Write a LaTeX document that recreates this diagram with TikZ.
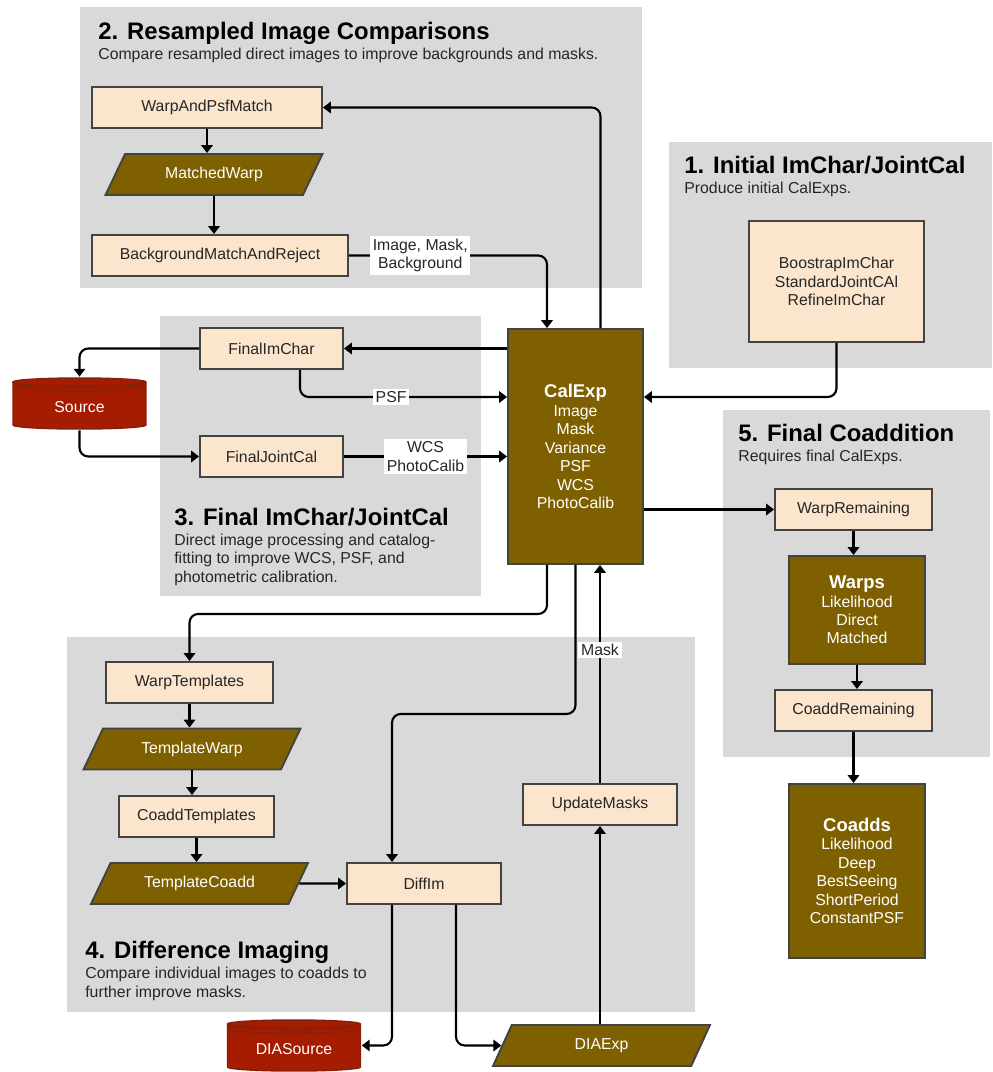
\documentclass[tikz,border=0pt]{standalone}
\usepackage{fontspec}
\setmainfont{Liberation Sans}
\usetikzlibrary{arrows.meta,shapes.geometric}
\definecolor{kpanel}{HTML}{D9D9D9}
\definecolor{kpeach}{HTML}{FCE5CD}
\definecolor{kbrown}{HTML}{7F6000}
\definecolor{kred}{HTML}{A61C00}
\definecolor{kredline}{HTML}{85200C}
\definecolor{kline}{HTML}{434343}
\definecolor{ktext}{HTML}{262626}
\begin{document}
\begin{tikzpicture}[x=0.02cm,y=-0.02cm,
  kbox/.style={draw=kline,line width=1.1pt,fill=kpeach,text=ktext,font=\fontsize{9}{10.5}\selectfont,align=center,inner sep=0pt,minimum height=0.82cm},
  kdata/.style={draw=kline,line width=1.1pt,fill=kbrown,text=white,font=\fontsize{9}{10.5}\selectfont,align=center,inner sep=0pt},
  kslant/.style={kdata,trapezium,trapezium left angle=37,trapezium right angle=143,trapezium stretches body,minimum width=4.34cm,minimum height=0.82cm},
  kdb/.style={minimum width=2.7cm,minimum height=1.06cm,inner sep=0pt,text=white,font=\fontsize{9}{10.5}\selectfont,text height=10pt,text depth=0pt,
    path picture={
      \coordinate (kTL) at ([xshift=0.6pt,yshift=-\kry cm-0.6pt]path picture bounding box.north west);
      \coordinate (kBL) at ([xshift=0.6pt,yshift=\kry cm+0.6pt]path picture bounding box.south west);
      \coordinate (kTR) at ([xshift=-0.6pt,yshift=-\kry cm-0.6pt]path picture bounding box.north east);
      \filldraw[fill=kred,draw=kredline,line width=0.9pt] (kTL) -- (kBL) arc[start angle=180,end angle=360,x radius=\krx cm-0.6pt,y radius=\kry cm]
        -- (kTR) arc[start angle=0,end angle=180,x radius=\krx cm-0.6pt,y radius=\kry cm] -- cycle;
      \foreach \kdy in {0,0.04,0.1}{
        \draw[kredline,line width=0.6pt] ([yshift=-\kdy cm]kTL) arc[start angle=180,end angle=360,x radius=\krx cm-0.6pt,y radius=\kry cm];}
    }},
  karr/.style={draw=black,line width=1.2pt,rounded corners=5pt,-{Triangle[length=4.5pt,width=6.5pt]}},
  klbl/.style={fill=white,text=ktext,font=\fontsize{9}{10.5}\selectfont,align=center,inner sep=1.5pt,sharp corners},
  ktitle/.style={anchor=base west,font=\fontsize{13.6}{16}\selectfont\bfseries,text=black,inner sep=0pt},
  ksub/.style={anchor=base west,font=\fontsize{9}{10.5}\selectfont,text=ktext,align=left,inner sep=0pt},
]
\pgfmathsetmacro{\krx}{1.35}
\pgfmathsetmacro{\kry}{0.08}
\useasboundingbox (0,0) rectangle (992,1072);
% panels
\foreach \kxa/\kya/\kxb/\kyb in {80/7/642/288,669/142/992/368,160/316/481/596,723/410/990/757,67/637/695/1012}{
  \fill[kpanel] (\kxa,\kya) rectangle (\kxb,\kyb);}
% panel texts (base of the last line)
\node[ktitle] (t2) at (98,39) {2. Resampled Image Comparisons};
\node[ksub] (s2) at (98,59) {Compare resampled direct images to improve backgrounds and masks.};
\node[ktitle] (t1) at (684,173) {1. Initial ImChar/JointCal};
\node[ksub] (s1) at (684,193) {Produce initial CalExps.};
\node[ktitle] (t3) at (174,525) {3. Final ImChar/JointCal};
\node[ksub] (s3) at (174,582) {Direct image processing and catalog-\\fitting to improve WCS, PSF, and\\photometric calibration.};
\node[ktitle] (t5) at (738,441) {5. Final Coaddition};
\node[ksub] (s5) at (738,461) {Requires final CalExps.};
\node[ktitle] (t4) at (85,958) {4. Difference Imaging};
\node[ksub] (s4) at (85,997) {Compare individual images to coadds to\\further improve masks.};
% nodes
\node[kbox,minimum width=4.6cm] (WarpPsf) at (207,107.5) {WarpAndPsfMatch};
\node[kslant] (MatchedWarp) at (214,174.5) {MatchedWarp};
\node[kbox,minimum width=5.12cm] (BgMatch) at (220,255.5) {BackgroundMatchAndReject};
\node[kbox,minimum width=3.5cm,minimum height=2.42cm] (Initial) at (836.5,281.5) {BoostrapImChar\\StandardJointCAl\\RefineImChar};
\node[kdata,minimum width=2.7cm,minimum height=4.7cm] (CalExp) at (575.5,446.5) {{\fontsize{10.5}{12}\selectfont\bfseries CalExp}\\Image\\Mask\\Variance\\PSF\\WCS\\PhotoCalib};
\node[kbox,minimum width=2.86cm] (FinalImChar) at (271.5,348.5) {FinalImChar};
\node[kbox,minimum width=2.86cm] (FinalJointCal) at (271.5,456.5) {FinalJointCal};
\node[kdb] (Source) at (79.5,403.5) {Source};
\node[kbox,minimum width=3.14cm] (WarpRem) at (853.5,509.5) {WarpRemaining};
\node[kdata,minimum width=2.72cm,minimum height=2.16cm] (Warps) at (857,610) {{\fontsize{10.5}{12}\selectfont\bfseries Warps}\\Likelihood\\Direct\\Matched};
\node[kbox,minimum width=3.14cm] (CoaddRem) at (853.5,710.5) {CoaddRemaining};
\node[kdata,minimum width=2.72cm,minimum height=3.48cm] (Coadds) at (857,871) {{\fontsize{10.5}{12}\selectfont\bfseries Coadds}\\Likelihood\\Deep\\BestSeeing\\ShortPeriod\\ConstantPSF};
\node[kbox,minimum width=3.34cm] (WarpTmpl) at (189.5,682.5) {WarpTemplates};
\node[kslant] (TmplWarp) at (192,749) {TemplateWarp};
\node[kbox,minimum width=3.1cm] (CoaddTmpl) at (196.5,816.5) {CoaddTemplates};
\node[kslant] (TmplCoadd) at (199.5,883.5) {TemplateCoadd};
\node[kbox,minimum width=3.08cm] (DiffIm) at (424,883.5) {DiffIm};
\node[kbox,minimum width=3.08cm] (UpdMasks) at (600,804.5) {UpdateMasks};
\node[kslant] (DIAExp) at (601.5,1045.5) {DIAExp};
\node[kdb] (DIASource) at (294,1045.5) {DIASource};
% connectors
\draw[karr] (BgMatch.east) -| ([xshift=-0.57cm]CalExp.north) node[klbl,pos=0.18]{Image, Mask,\\Background};
\draw[karr] ([xshift=0.5cm]CalExp.north) |- (WarpPsf.east);
\draw[karr] (WarpPsf.south) -- (WarpPsf.south |- MatchedWarp.north);
\draw[karr] (MatchedWarp.south) -- (MatchedWarp.south |- BgMatch.north);
\draw[karr] (FinalImChar.east -| CalExp.west) -- (FinalImChar.east);
\draw[karr] (FinalImChar.west) -| (Source.north);
\draw[karr] ([xshift=0.57cm]FinalImChar.south) |- ([yshift=0.99cm]CalExp.west) node[klbl,pos=0.72]{PSF};
\draw[karr] (Initial.south) |- ([yshift=0.99cm]CalExp.east);
\draw[karr] (Source.south) |- (FinalJointCal.west);
\draw[karr] (FinalJointCal.east) -- (FinalJointCal.east -| CalExp.west) node[klbl,pos=0.5]{WCS\\PhotoCalib};
\draw[karr] (WarpRem.west -| CalExp.east) -- (WarpRem.west);
\draw[karr] (WarpRem.south) -- (WarpRem.south |- Warps.north);
\draw[karr] (Warps.south) -- (Warps.south |- CoaddRem.north);
\draw[karr] (CoaddRem.south) -- (CoaddRem.south |- Coadds.north);
\draw[karr] ([xshift=-0.57cm]CalExp.south) -- ++(0,49) -| (WarpTmpl.north);
\draw[karr] (CalExp.south) -- ++(0,149) -| ([xshift=-0.64cm]DiffIm.north);
\draw[karr] (UpdMasks.north) -- (UpdMasks.north |- CalExp.south) node[klbl,pos=0.61]{Mask};
\draw[karr] (DIAExp.north -| UpdMasks.south) -- (UpdMasks.south);
\draw[karr] (WarpTmpl.south) -- (WarpTmpl.south |- TmplWarp.north);
\draw[karr] (TmplWarp.south) -- (TmplWarp.south |- CoaddTmpl.north);
\draw[karr] (CoaddTmpl.south) -- (CoaddTmpl.south |- TmplCoadd.north);
\draw[karr] (TmplCoadd.east) -- (DiffIm.west);
\draw[karr] ([xshift=-0.64cm]DiffIm.south) |- (DIASource.east);
\draw[karr] ([xshift=0.64cm]DiffIm.south) |- (DIAExp.west);
\end{tikzpicture}
\end{document}
